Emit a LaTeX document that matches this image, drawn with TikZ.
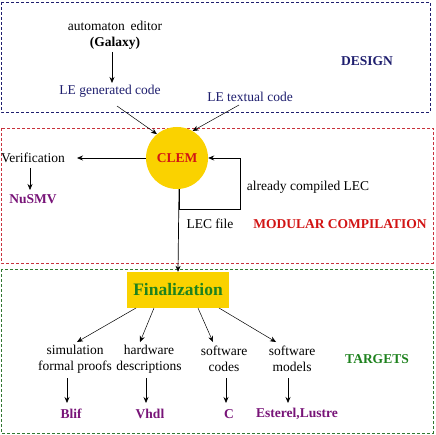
\documentclass[tikz,border=0pt]{standalone}
\usepackage{fontspec}
\setmainfont{Liberation Serif}
\usetikzlibrary{arrows.meta}
\definecolor{navyc}{RGB}{30,30,110}
\definecolor{redc}{RGB}{210,20,20}
\definecolor{redbox}{RGB}{200,50,60}
\definecolor{greenc}{RGB}{30,130,30}
\definecolor{greenbox}{RGB}{50,120,50}
\definecolor{purplec}{RGB}{120,20,120}
\definecolor{goldc}{RGB}{250,210,0}
\tikzset{
  arr/.style={-{Stealth[length=6pt,width=5pt]},line width=0.7pt},
  thinarr/.style={-{Stealth[length=6pt,width=5pt]},line width=0.5pt},
  txt/.style={font=\fontsize{13.5}{15.5}\selectfont,inner sep=1pt,align=center},
  lbl/.style={font=\fontsize{13.5}{15.5}\selectfont\bfseries,inner sep=1pt},
  frame/.style={dashed,dash pattern=on 3pt off 2pt,line width=0.5pt}
}
\begin{document}
\begin{tikzpicture}[x=1pt,y=-1pt]
\useasboundingbox (0,0) rectangle (435,435);
\fill[white] (0,0) rectangle (435,435);
% frames
\draw[frame,navyc] (1,2) rectangle (430,112);
\draw[frame,redbox] (1,128) rectangle (433,263);
\draw[frame,greenbox] (1,269) rectangle (433,433);
% design
\node[txt] (auto) at (115,26) {automaton\, editor};
\node[lbl] (gal) at (115,43) {(Galaxy)};
\node[txt,text=navyc] (gen) at (110,91) {LE generated code};
\node[txt,text=navyc] (textual) at (250,97) {LE textual code};
\node[lbl,text=navyc] (design) at (367,61) {DESIGN};
% modular
\node[circle,fill=goldc,minimum size=62pt,inner sep=0pt,font=\fontsize{13.5}{15.5}\selectfont\bfseries,text=redc] (clem) at (177,158) {CLEM};
\node[txt,anchor=west] (verif) at (0,158) {Verification};
\node[lbl,text=purplec] (nusmv) at (33,199) {NuSMV};
\node[txt] (already) at (308,187) {already compiled LEC};
\node[txt] (lecfile) at (210,224) {LEC file};
\node[lbl,text=redc] (modular) at (340,224) {MODULAR COMPILATION};
\coordinate (loopa) at (179,209);
\coordinate (loopb) at (240,209);
\coordinate (loopc) at (240,158);
\coordinate (vtop) at (30,168);
\coordinate (vbot) at (30,190);
% targets
\node[fill=goldc,minimum width=102pt,minimum height=36pt,inner sep=0pt,font=\fontsize{17.5}{20}\selectfont\bfseries,text=greenc] (final) at (178,290) {Finalization};
\node[txt] (sim) at (75,359) {simulation\\formal proofs};
\node[txt] (hw) at (149,359) {hardware\\descriptions};
\node[txt] (swc) at (224,359) {software\\codes};
\node[txt] (swm) at (292,359) {software\\models};
\node[lbl,text=greenc] (targets) at (377,359) {TARGETS};
\node[lbl,text=purplec] (blif) at (71,414) {Blif};
\node[lbl,text=purplec] (vhdl) at (150,414) {Vhdl};
\node[lbl,text=purplec] (c) at (229,414) {C};
\node[lbl,text=purplec] (est) at (297,414) {Esterel,Lustre};
% connectors
\draw[arr] (112,52) -- (112,83);
\draw[thinarr] (117,106) -- (clem.130);
\draw[thinarr] (239,105) -- (clem.60);
\draw[arr] (clem.west) -- (77,158);
\draw[thinarr] (vtop) -- (vbot);
\draw[line width=0.6pt] (clem.south) ++(2,0) |- (loopb) -- (loopc);
\draw[arr] (loopc) -- (clem.east);
\draw[arr] (clem.south) ++(2,0) -- (final.north);
\draw[thinarr] (136,308) -- (77,342);
\draw[thinarr] (154,308) -- (140,342);
\draw[thinarr] (198,308) -- (213,342);
\draw[thinarr] (219,308) -- (276,342);
\draw[arr] (67,378) -- (67,403);
\draw[arr] (146,378) -- (146,403);
\draw[arr] (226,378) -- (226,403);
\draw[arr] (288,378) -- (288,403);
\end{tikzpicture}
\end{document}
